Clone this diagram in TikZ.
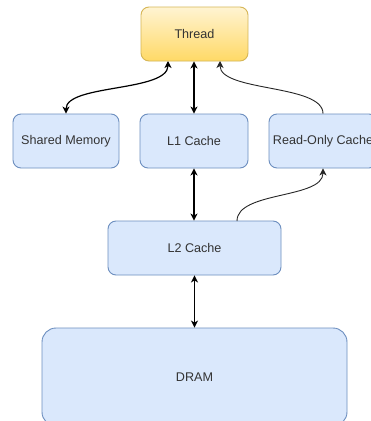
\documentclass[tikz,border=0pt]{standalone}
\usepackage{fontspec}
\setmainfont{Liberation Sans}
\usetikzlibrary{arrows.meta}
\definecolor{memfill}{HTML}{DAE8FC}
\definecolor{memline}{HTML}{6C8EBF}
\definecolor{thrtop}{HTML}{FFF4D2}
\definecolor{thrbot}{HTML}{FFD966}
\definecolor{thrline}{HTML}{D6B656}
\definecolor{labelgray}{HTML}{333333}
\tikzset{
  box/.style={draw=memline, fill=memfill, rounded corners=8pt, line width=0.9pt,
    text=labelgray, font=\fontsize{12.6}{15}\selectfont, inner sep=0pt,
    minimum height=54pt},
  threadbox/.style={box, draw=thrline, top color=thrtop, bottom color=thrbot},
  link/.style={line width=1.2pt, draw=black,
    {Stealth[length=7pt,width=7pt,inset=2pt]}-{Stealth[length=7pt,width=7pt,inset=2pt]}},
  onelink/.style={line width=0.9pt, draw=black!85,
    -{Stealth[length=7pt,width=7pt,inset=2pt]}},
}
\begin{document}
\begin{tikzpicture}[x=1pt,y=-1pt]
\useasboundingbox (0,0) rectangle (371,421);
\clip (0,0) rectangle (371,421);
\fill[white] (0,0) rectangle (371,421);

% processing unit
\node[threadbox, minimum width=107pt] (thread) at (194.5,34) {Thread};

% on-chip memories
\node[box, minimum width=106pt] (shared) at (66,141) {Shared Memory};
\node[box, minimum width=108pt] (l1) at (194,141) {L1 Cache};
\node[box, minimum width=108pt] (ro) at (323,141) {Read-Only Cache};

% second level and device memory
\node[box, minimum width=173pt] (l2) at (194.5,248) {L2 Cache};
\node[box, minimum width=305pt, minimum height=98pt, rounded corners=14pt] (dram) at (194.5,377) {DRAM};

% connectors
\draw[link] (thread.south -| l1) -- (l1.north);
\draw[link] (l1.south) -- (l2.north -| l1);
\draw[link] (l2.south) -- (dram.north);
\draw[link] (shared.north) .. controls (66,84) and (168,92) .. (168,61);
\draw[onelink] (ro.north) .. controls (323,84) and (220,92) .. (220,61);
\coordinate (l2out) at (237,221);
\draw[onelink] (l2out) .. controls (237,191) and (323,199) .. (ro.south);
\end{tikzpicture}
\end{document}
